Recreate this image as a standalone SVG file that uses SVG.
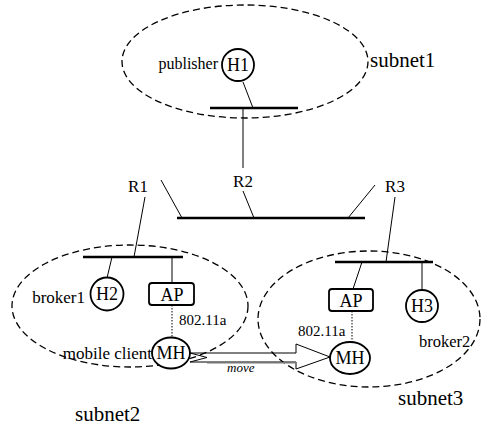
<svg xmlns="http://www.w3.org/2000/svg" width="481" height="427" viewBox="0 0 481 427" font-family="'Liberation Serif', 'DejaVu Serif', serif">
<style>
.sub{fill:none;stroke:#000;stroke-width:1.3;stroke-dasharray:7,4}
.ln{stroke:#000;stroke-width:1;fill:none}
.bar{stroke:#000;stroke-width:2.5}
.node{fill:#fff;stroke:#000;stroke-width:1.8}
.dot{stroke:#000;stroke-width:1;stroke-dasharray:1.5,1.5}
text{font-family:'Liberation Serif', 'DejaVu Serif', serif;fill:#000}
.lbl{font-size:17px}
.nl{font-size:18px;text-anchor:middle}
.big{font-size:21px}
.wl{font-size:15px}
</style>
<g id="subnets">
<ellipse id="subnet1-area" class="sub" cx="245" cy="61.5" rx="123" ry="56.5"/>
<ellipse id="subnet2-area" class="sub" cx="130" cy="306" rx="118" ry="61"/>
<ellipse id="subnet3-area" class="sub" cx="369" cy="319" rx="111" ry="68"/>
</g>
<g id="connectors">
<line class="ln" x1="243" y1="82" x2="253" y2="108"/>
<line class="bar" x1="210" y1="108" x2="298" y2="108"/>
<line class="ln" x1="243" y1="108" x2="243" y2="168"/>
<line class="bar" x1="177" y1="218" x2="365" y2="218"/>
<line class="ln" x1="161" y1="180" x2="182" y2="218"/>
<line class="ln" x1="243" y1="191" x2="254" y2="218"/>
<line class="ln" x1="375" y1="185" x2="348" y2="218"/>
<line class="ln" x1="145" y1="197" x2="134" y2="257"/>
<line class="ln" x1="395" y1="197" x2="386" y2="262"/>
<line class="bar" x1="83" y1="257" x2="183" y2="257"/>
<line class="ln" x1="112" y1="257" x2="107" y2="278"/>
<line class="ln" x1="172" y1="257" x2="172" y2="283"/>
<line class="dot" x1="172" y1="305" x2="172" y2="338"/>
<line class="bar" x1="335" y1="262" x2="433" y2="262"/>
<line class="ln" x1="362" y1="262" x2="353" y2="289"/>
<line class="ln" x1="422" y1="262" x2="422" y2="290"/>
<line class="dot" x1="352" y1="311" x2="352" y2="342"/>
<polygon class="ln" points="190,353 296,353 296,344 330,357 296,369 296,362 190,362 207,357.5"/>
<line x1="207" y1="362.7" x2="296" y2="362.7" stroke="#777" stroke-width="1.5"/>
<text x="227" y="372" font-size="13" font-style="italic">move</text>
</g>
<g id="R1"><text class="nl" x="138" y="192" style="font-size:17px">R1</text></g>
<g id="R2"><text class="nl" x="243" y="187" style="font-size:17px">R2</text></g>
<g id="R3"><text class="nl" x="395" y="192" style="font-size:17px">R3</text></g>
<g id="H1">
<circle class="node" cx="238" cy="65" r="16"/>
<text class="nl" x="238" y="71">H1</text>
<text class="lbl" x="218" y="69" text-anchor="end" style="font-size:16px">publisher</text>
</g>
<g id="subnet1"><text class="big" x="370" y="67">subnet1</text></g>
<g id="H2">
<circle class="node" cx="107" cy="294" r="16.5"/>
<text class="nl" x="107" y="300">H2</text>
<text class="lbl" x="85" y="303" text-anchor="end">broker1</text>
</g>
<g id="AP1">
<rect class="node" x="149" y="283" width="45" height="22" rx="3"/>
<text class="nl" x="172" y="301">AP</text>
<text class="wl" x="179" y="325">802.11a</text>
</g>
<g id="MH1">
<ellipse class="node" cx="171" cy="353" rx="19" ry="15.5"/>
<text class="nl" x="171" y="359">MH</text>
<text class="lbl" x="152" y="359" text-anchor="end">mobile client</text>
</g>
<g id="subnet2"><text class="big" x="75" y="421">subnet2</text></g>
<g id="AP2">
<rect class="node" x="329" y="289" width="44" height="22" rx="3"/>
<text class="nl" x="351" y="307">AP</text>
<text class="wl" x="298" y="336">802.11a</text>
</g>
<g id="H3">
<circle class="node" cx="422" cy="306" r="16"/>
<text class="nl" x="422" y="312">H3</text>
<text class="lbl" x="419" y="347" style="font-size:16.5px">broker2</text>
</g>
<g id="MH2">
<ellipse class="node" cx="350" cy="358" rx="20" ry="16"/>
<text class="nl" x="350" y="364">MH</text>
</g>
<g id="subnet3"><text class="big" x="398" y="405">subnet3</text></g>
</svg>
